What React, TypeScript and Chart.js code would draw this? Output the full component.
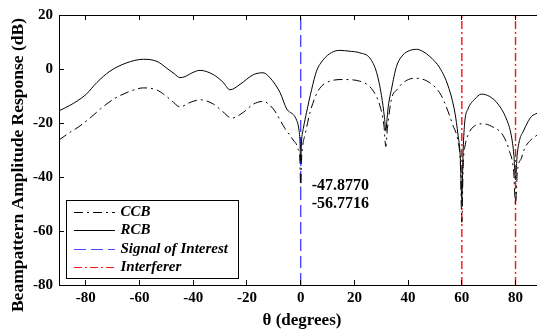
import React, { useEffect, useRef } from "react";
import { Chart, registerables } from "chart.js";

Chart.register(...registerables);

// ---- Data ----
const rcbTheta = [
  -90, -86, -83, -80, -76, -71, -65, -58.5, -53.5, -50, -47, -45, -43, -41, -37.5, -32.5, -29, -26.3,
  -22.6, -17.6, -14, -11.4, -7.7, -5.2, -4, -2.8, -1.5, -0.8, -0.3, 0, 0.3, 1, 2.2, 4.1, 5.9, 8.4,
  11.5, 14.6, 18, 22, 25.8, 28.3, 30.1, 31.2, 31.7, 32.2, 32.6, 33.8, 35.7, 38.1, 40.5, 43.1, 45.5,
  48.1, 51.8, 54.9, 57.4, 58.6, 59.4, 60, 60.5, 61.1, 62.3, 64.8, 67.3, 70.4, 73.5, 76.6, 78.4, 79.4,
  80, 80.6, 81.6, 82.8, 84.6, 86, 88,
];
const rcbDb = [
  -15.5, -13.5, -11.7, -9.5, -5.1, -0.8, 2.2, 3.6, 2.8, 0.4, -1.8, -3.2, -2.8, -1.7, -0.5, -2.1, -4.8, -7.7,
  -5.7, -2.1, -1.4, -3.3, -8.7, -14.8, -16, -16.8, -19, -21.5, -26, -34, -27, -22, -16, -7.5, -0.8, 3.4,
  6.1, 6.9, 6.6, 6.0, 4, -1.4, -9.9, -18, -23, -18, -14, -7.5, 1, 5.2, 6.8, 7.3, 6.5,
  4.6, 0.4, -6.3, -16, -24.5, -32, -47.877, -30, -19.6, -14.8, -11.2, -9.3, -10.2, -13, -18.5, -24.5, -32,
  -41, -32, -26, -23.3, -19.6, -17.5, -16.4,
];

const ccbTheta = [
  -90, -86, -82.8, -78, -74.6, -69.7, -64.7, -58.5, -53.5, -48.6, -44.9, -41.2, -37.4, -32.5, -29, -25.7,
  -21.3, -17.6, -14, -10.2, -5.8, -2.8, -1, -0.3, 0, 0.3, 0.8, 1.6, 3.5, 6.5, 10.9, 15.8, 22, 27, 29.5,
  31, 31.7, 32.3, 33.8, 36, 38.1, 42.5, 48.1, 52.4, 56.7, 58.6, 59.5, 60, 60.5, 61.3, 62.3, 64.2, 67.9,
  71.6, 75.3, 77.8, 79.3, 80, 80.7, 82.2, 83.4, 85.5, 88,
];
const ccbDb = [
  -26.3, -23.5, -21.5, -17.8, -14.8, -11.2, -8.7, -7, -7.8, -11.2, -14, -12.4, -11.4, -13, -15.8, -18.2,
  -16, -13, -12, -14.8, -22.1, -26.3, -29.5, -34, -44, -34, -28, -24.5, -16, -8.1, -4.5, -3.9, -4.5, -8.1, -13.6,
  -20.9, -28.7, -22, -11.2, -7.5, -5.1, -3.4, -5.1, -9.9, -20.9, -27, -36, -56.7716, -36, -28, -24.5, -21.5, -20.3,
  -21.5, -24.5, -30.6, -38, -50, -38, -33, -29.4, -26.5, -24.5,
];

const soiAngles = [0];
const interfererAngles = [60, 80];

const xTicks = [-80, -60, -40, -20, 0, 20, 40, 60, 80];
const yTicks = [-80, -60, -40, -20, 0, 20];

const X_MIN = -90;
const X_MAX = 88;
const Y_MIN = -80;
const Y_MAX = 20;

const nullLabels = ["-47.8770", "-56.7716"];
const nullLabelTheta = 4.1;
const nullLabelDb = [-43.4, -50];

const seriesLabels = ["CCB", "RCB", "Signal of Interest", "Interferer"];
const seriesColors = ["#000000", "#000000", "#4a4aff", "#ff1010"];
const seriesWidths = [1, 1, 1.4, 1.4];
const seriesDashes: number[][] = [[9, 4, 2, 4], [], [12, 5], [8, 3, 2, 3]];

const FONT = "'Liberation Serif', 'Times New Roman', Times, serif";

function toPoints(xs: number[], ys: number[]) {
  return xs.map((x, i) => ({ x, y: ys[i] }));
}

function verticalLines(angles: number[]) {
  const pts: { x: number; y: number | null }[] = [];
  angles.forEach((a, i) => {
    if (i > 0) pts.push({ x: (angles[i - 1] + a) / 2, y: null });
    pts.push({ x: a, y: Y_MIN }, { x: a, y: Y_MAX });
  });
  return pts;
}

const decorPlugin = {
  id: "decor",
  afterDraw(chart: any) {
    const { ctx, chartArea, scales } = chart;
    const { left, right, top, bottom } = chartArea;
    const xs = scales.x;
    const ys = scales.y;
    ctx.save();
    ctx.strokeStyle = "#000";
    ctx.lineWidth = 1;
    ctx.setLineDash([]);
    // top box line
    ctx.beginPath();
    ctx.moveTo(left, Math.round(top) + 0.5);
    ctx.lineTo(right, Math.round(top) + 0.5);
    ctx.stroke();
    // inward ticks
    ctx.beginPath();
    xTicks.forEach((v) => {
      const px = Math.floor(xs.getPixelForValue(v)) + 0.5;
      ctx.moveTo(px, bottom);
      ctx.lineTo(px, bottom - 5);
      ctx.moveTo(px, top);
      ctx.lineTo(px, top + 5);
    });
    yTicks.forEach((v) => {
      const py = Math.round(ys.getPixelForValue(v)) + 0.5;
      ctx.moveTo(left, py);
      ctx.lineTo(left + 5, py);
    });
    ctx.stroke();

    // axis titles
    ctx.fillStyle = "#000";
    ctx.font = `bold 17px ${FONT}`;
    ctx.textAlign = "center";
    ctx.textBaseline = "middle";
    ctx.fillText("\u03B8 (degrees)", 302, 321);
    ctx.save();
    ctx.translate(18, 165);
    ctx.rotate(-Math.PI / 2);
    ctx.font = `bold 17.5px ${FONT}`;
    ctx.fillText("Beampattern Amplitude Response (dB)", 0, 0);
    ctx.restore();

    // null depth annotations
    ctx.font = `bold 16px ${FONT}`;
    ctx.textAlign = "left";
    nullLabels.forEach((t, i) => {
      ctx.fillText(t, xs.getPixelForValue(nullLabelTheta), ys.getPixelForValue(nullLabelDb[i]));
    });

    // legend
    const bx = 66.5, by = 200.5, bw = 172, bh = 78;
    ctx.fillStyle = "#fff";
    ctx.fillRect(bx, by, bw, bh);
    ctx.strokeStyle = "#000";
    ctx.lineWidth = 1;
    ctx.strokeRect(bx, by, bw, bh);
    ctx.font = `italic bold 15px ${FONT}`;
    seriesLabels.forEach((label, i) => {
      const ry = Math.round(212 + i * 18.3) + 0.5;
      ctx.strokeStyle = seriesColors[i];
      ctx.lineWidth = 1;
      ctx.setLineDash(seriesDashes[i]);
      ctx.beginPath();
      ctx.moveTo(74, ry);
      ctx.lineTo(115, ry);
      ctx.stroke();
      ctx.setLineDash([]);
      ctx.fillStyle = "#000";
      ctx.fillText(label, 120.5, ry);
    });
    ctx.restore();
  },
};

export default function App() {
  const ref = useRef<HTMLCanvasElement | null>(null);
  useEffect(() => {
    document.body.style.margin = "0";
    if (!ref.current) return;
    const tickFont = { family: FONT, size: 15, weight: "bold" as const };
    const chart = new Chart(ref.current, {
      type: "line",
      data: {
        datasets: [
          {
            label: seriesLabels[0],
            data: toPoints(ccbTheta, ccbDb),
            borderColor: seriesColors[0],
            borderWidth: seriesWidths[0],
            borderDash: seriesDashes[0],
            pointRadius: 0,
            cubicInterpolationMode: "monotone",
          },
          {
            label: seriesLabels[1],
            data: toPoints(rcbTheta, rcbDb),
            borderColor: seriesColors[1],
            borderWidth: seriesWidths[1],
            pointRadius: 0,
            cubicInterpolationMode: "monotone",
          },
          {
            label: seriesLabels[2],
            data: verticalLines(soiAngles),
            borderColor: seriesColors[2],
            borderWidth: seriesWidths[2],
            borderDash: seriesDashes[2],
            pointRadius: 0,
            spanGaps: false,
          },
          {
            label: seriesLabels[3],
            data: verticalLines(interfererAngles),
            borderColor: seriesColors[3],
            borderWidth: seriesWidths[3],
            borderDash: seriesDashes[3],
            pointRadius: 0,
            spanGaps: false,
          },
        ],
      } as any,
      options: {
        animation: false,
        responsive: false,
        maintainAspectRatio: false,
        layout: { padding: { top: 11, right: 0, left: 0, bottom: 0 } },
        plugins: { legend: { display: false }, tooltip: { enabled: false } },
        scales: {
          x: {
            type: "linear",
            min: X_MIN,
            max: X_MAX,
            afterBuildTicks: (s: any) => {
              s.ticks = xTicks.map((v) => ({ value: v }));
            },
            afterFit: (s: any) => {
              s.height = 48;
            },
            grid: { drawOnChartArea: false, drawTicks: false },
            border: { display: true, color: "#000", width: 1 },
            ticks: { padding: 4, color: "#000", font: tickFont, maxRotation: 0, autoSkip: false },
          },
          y: {
            type: "linear",
            min: Y_MIN,
            max: Y_MAX,
            afterBuildTicks: (s: any) => {
              s.ticks = yTicks.map((v) => ({ value: v }));
            },
            afterFit: (s: any) => {
              s.width = 59;
            },
            grid: { drawOnChartArea: false, drawTicks: false },
            border: { display: true, color: "#000", width: 1 },
            ticks: { padding: 6, color: "#000", font: tickFont, autoSkip: false },
          },
        },
      } as any,
      plugins: [decorPlugin],
    });
    return () => chart.destroy();
  }, []);
  return (
    <div style={{ width: 537, height: 333 }}>
      <canvas ref={ref} width={537} height={333} style={{ display: "block" }} />
    </div>
  );
}
